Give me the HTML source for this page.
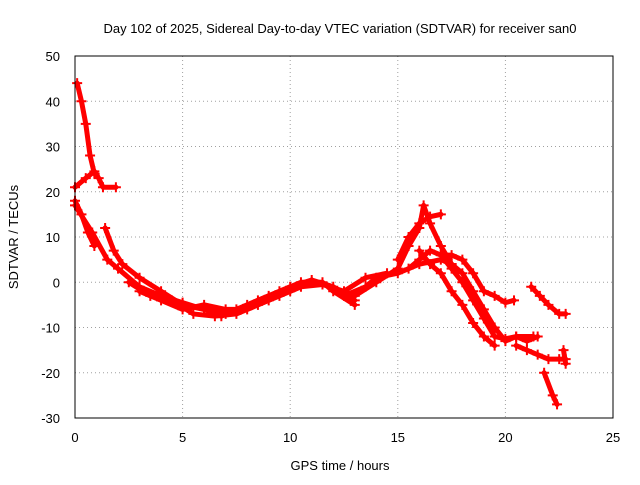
<!DOCTYPE html>
<html><head><meta charset="utf-8"><style>
body{margin:0;background:#fff}
svg text{font-family:"Liberation Sans",sans-serif;font-size:13px;fill:#000}
</style></head><body>
<svg id="c" width="640" height="480">
<text x="340" y="33" text-anchor="middle">Day 102 of 2025, Sidereal Day-to-day VTEC variation (SDTVAR) for receiver san0</text>
<text x="340" y="470" text-anchor="middle">GPS time / hours</text>
<text transform="translate(18,237) rotate(-90)" text-anchor="middle">SDTVAR / TECUs</text>
<g id="grid"></g><g id="marks"></g>
<rect x="75" y="56" width="538" height="362" fill="none" stroke="#000"/>
</svg>
<script>
const xTicks=[0,5,10,15,20,25];
const yTicks=[-30,-20,-10,0,10,20,30,40,50];
const track1=[[0.1,44],[0.3,40],[0.5,35],[0.7,28],[0.9,24]];
const track2=[[0,21],[0.5,23],[0.9,24.5],[1.1,23],[1.3,21],[1.9,21]];
const track3=[[0,18],[0.3,15],[0.6,11],[0.9,8]];
const track4=[[1.4,12],[1.8,7],[2.2,4],[3,1],[4,-2],[5,-5],[6,-6],[7,-7],[8,-5],[9,-3],[10,-1],[11,0.5],[12,-1],[13,-4]];
const track5=[[0,17],[0.8,11],[1.5,5],[2,3],[3,-1],[4,-3],[5,-4.5],[6,-6],[6.8,-7.5],[7.5,-6],[8.5,-4],[9.5,-2],[10.5,0],[11.5,0],[12,-2],[13,-5]];
const track6=[[12.5,-3],[13.5,-1],[14,1],[15,2],[16,4],[17,5],[17.5,4],[18,2],[18.5,-2],[19,-6],[19.5,-10],[20,-13],[20.5,-12],[21,-13],[21.5,-12]];
const track7=[[13,-3],[14,0],[15,3],[15.5,8],[16,12],[16.2,17],[16.5,13],[17,8],[17.5,4]];
const track8=[[15,5],[15.5,10],[16,13],[16.5,14.5],[17,15]];
const track9=[[16,7],[16.5,4],[17,2],[17.5,-2],[18,-5],[18.5,-9],[19,-12],[19.5,-14]];
const track10=[[17,6],[17.5,6],[18,5],[18.5,2],[19,-2],[19.5,-3],[20,-4.5],[20.4,-4]];
const track11=[[21.2,-1],[21.6,-3],[22,-5],[22.5,-7],[22.8,-7]];
const track12=[[20.5,-14],[21,-15],[21.5,-16],[22,-17],[22.5,-17],[22.8,-17]];
const track13=[[21.8,-20],[22.2,-25],[22.4,-27]];
const track14=[[22.7,-15],[22.8,-18]];
const track15=[[2.5,0],[3.5,-3],[4.5,-4],[5.5,-7],[6.5,-7.5],[7.5,-7],[8.5,-5],[9.5,-3],[10.5,-1],[11.5,-0.5],[12.5,-2],[13.5,1],[14.5,2]];
const track16=[[3,-2],[4,-4],[5,-6],[6,-5],[7,-6],[8,-6],[9,-4],[10,-2],[11,0]];
const track17=[[15.5,3],[16,5],[16.5,7],[17,6],[17.5,3],[18,0],[18.5,-4],[19,-8],[19.5,-12],[20,-12.5],[20.5,-12],[21.3,-12]];
const tracks=[track1,track2,track3,track4,track5,track6,track7,track8,track9,track10,track11,track12,track13,track14,track15,track16,track17];
const X=v=>75+v*538/25, Y=v=>418-(v+30)*362/80;
const NS="http://www.w3.org/2000/svg";
const g=document.getElementById('grid'), m=document.getElementById('marks');
function mk(t,a,p){const e=document.createElementNS(NS,t);for(const k in a)e.setAttribute(k,a[k]);p.appendChild(e);return e;}
xTicks.forEach(t=>{
 const l=mk('line',{x1:X(t),x2:X(t),y1:56,y2:418,stroke:'#a0a0a0','stroke-dasharray':'1,3'},g);
 
 
 const s=mk('text',{x:X(t),y:442,'text-anchor':'middle'},g);s.textContent=t;
 
 
});
yTicks.forEach(t=>{
 const l=mk('line',{x1:75,x2:613,y1:Y(t),y2:Y(t),stroke:'#a0a0a0','stroke-dasharray':'1,3'},g);
 
 
 const s=mk('text',{x:60,y:Y(t)+5,'text-anchor':'end'},g);s.textContent=t;
 
 
});
tracks.forEach(tr=>{
 const p=mk('polyline',{points:tr.map(d=>X(d[0])+','+Y(d[1])).join(' '),fill:'none',stroke:'#f00','stroke-width':5,'stroke-linejoin':'round','stroke-linecap':'round'},m);
 
 
 tr.forEach(d=>{
  const c=mk('path',{d:`M${X(d[0])-5},${Y(d[1])}h10M${X(d[0])},${Y(d[1])-5}v10`,stroke:'#f00','stroke-width':2},m);
  
  
 });
});
</script>
</body></html>
